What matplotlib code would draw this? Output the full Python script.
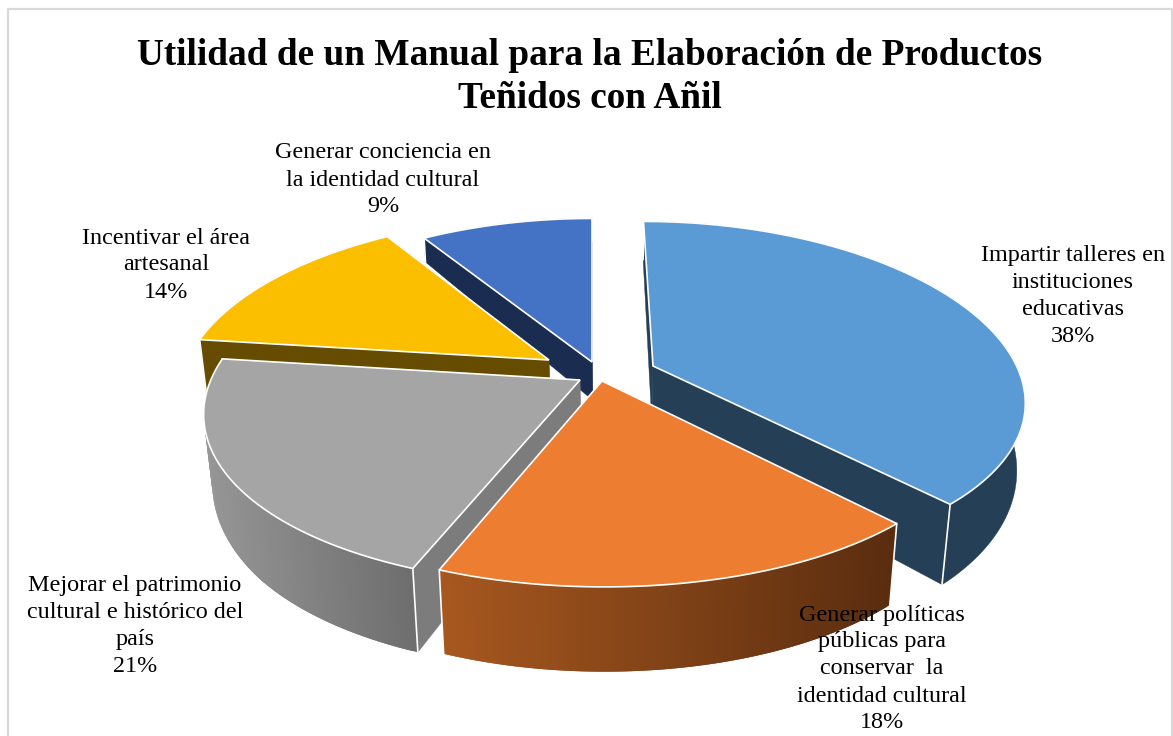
import numpy as np
import matplotlib
matplotlib.use("Agg")
import matplotlib.pyplot as plt
from matplotlib.colors import to_rgb

# datos
categorias = [
    "Impartir talleres en\ninstituciones\neducativas",
    "Generar políticas\npúblicas para\nconservar  la\nidentidad cultural",
    "Mejorar el patrimonio\ncultural e histórico del\npaís",
    "Incentivar el área\nartesanal",
    "Generar conciencia en\nla identidad cultural",
]
porcentajes = [38, 18, 21, 14, 9]
titulo = "Utilidad de un Manual para la Elaboración de Productos\nTeñidos con Añil"

# estilo por porcion
color_top = ["#5B9BD5", "#ED7D31", "#A5A5A5", "#FCBF00", "#4472C4"]
color_cut = ["#243F56", "#5E3010", "#7C7C7C", "#654C00", "#1A2C50"]
rim_izq = ["#243F56", "#A8581F", "#969696", "#654C00", "#1A2C50"]
rim_der = ["#243F56", "#5A2D0F", "#6E6E6E", "#654C00", "#1A2C50"]
apex = [(653, 366), (602, 381), (580, 380), (549, 360), (592, 362)]
grosor = [1.0, 1.0, 1.0, 1.0, 0.6]
orden = [4, 3, 2, 0, 1]
pos_label = [(1073, 296), (882, 669), (135, 626), (166, 265), (383, 180)]

# proyeccion de la pieza en pixeles
cx, cy = 592, 367
R, ry, k, kx = 364, 168, 0.16, 0.185


def proyectar(X, Y):
    return cx + R * X / (1 + kx * Y), cy - ry * Y / (1 + k * Y)


def desproyectar(x, y):
    v = (cy - y) / ry
    Y = v / (1 - k * v)
    X = (x - cx) * (1 + kx * Y) / R
    return X, Y


def abajo(x, y, Y, g):
    d = g * np.interp(Y, [-1.1, -0.7, 0, 0.5, 1], [85, 80, 64, 45, 38])
    return x + d * (613 - x) * 0.0003, y + d


fig = plt.figure(figsize=(11.73, 7.36), dpi=100)
ax = fig.add_axes([0, 0, 1, 1])
ax.set_xlim(0, 1173)
ax.set_ylim(736, 0)
ax.axis("off")

# marco del grafico
ax.plot([8, 8, 1172, 1172], [740, 9, 9, 740], color="#D9D9D9", lw=1.6, zorder=1)

acum = np.cumsum([0] + porcentajes) / sum(porcentajes) * 2 * np.pi

for i in orden:
    z = 2 + orden.index(i)
    t = np.linspace(acum[i], acum[i + 1], 100)
    X0, Y0 = desproyectar(*apex[i])
    X = X0 + np.sin(t)
    Y = Y0 + np.cos(t)
    x, y = proyectar(X, Y)
    xb, yb = abajo(x, y, Y, grosor[i])
    ax0, ay0 = proyectar(X0, Y0)
    axb, ayb = abajo(ax0, ay0, Y0, grosor[i])

    # caras de corte
    for j in [0, -1]:
        ax.fill([ax0, x[j], xb[j], axb], [ay0, y[j], yb[j], ayb],
                color=color_cut[i], lw=0.3, zorder=z)

    # borde exterior con degradado segun x, cada tramo pisa al anterior
    c1, c2 = np.array(to_rgb(rim_izq[i])), np.array(to_rgb(rim_der[i]))
    xmin, xmax = x.min(), x.max()
    if rim_izq[i] == rim_der[i]:
        ax.fill(np.r_[x, xb[::-1]], np.r_[y, yb[::-1]], color=c1, lw=0.3, zorder=z)
    else:
        for j in range(len(t) - 1):
            f = (x[j] - xmin) / max(xmax - xmin, 1)
            m = min(j + 3, len(t))
            ax.fill(np.r_[x[j:m], xb[j:m][::-1]], np.r_[y[j:m], yb[j:m][::-1]],
                    color=c1 + (c2 - c1) * f, lw=0, zorder=z)

    # aristas blancas
    for j in [0, -1]:
        ax.plot([x[j], xb[j]], [y[j], yb[j]], color="white", lw=1.2, zorder=z)

    # cara superior
    ax.fill(np.r_[ax0, x], np.r_[ay0, y], facecolor=color_top[i],
            edgecolor="white", lw=1.2, joinstyle="miter", zorder=z)

# textos
ax.text(590, 77, titulo, ha="center", va="center", fontsize=26.8, fontweight="bold",
        family="Liberation Serif", color="black", linespacing=1.29, zorder=20)

for i in range(len(categorias)):
    etiqueta = categorias[i] + "\n" + str(porcentajes[i]) + "%"
    ax.text(pos_label[i][0], pos_label[i][1], etiqueta, ha="center", va="center",
            fontsize=17.4, family="Liberation Serif", color="black", linespacing=1.375,
            zorder=20)

fig.savefig("out.png", dpi=100, facecolor="white")
